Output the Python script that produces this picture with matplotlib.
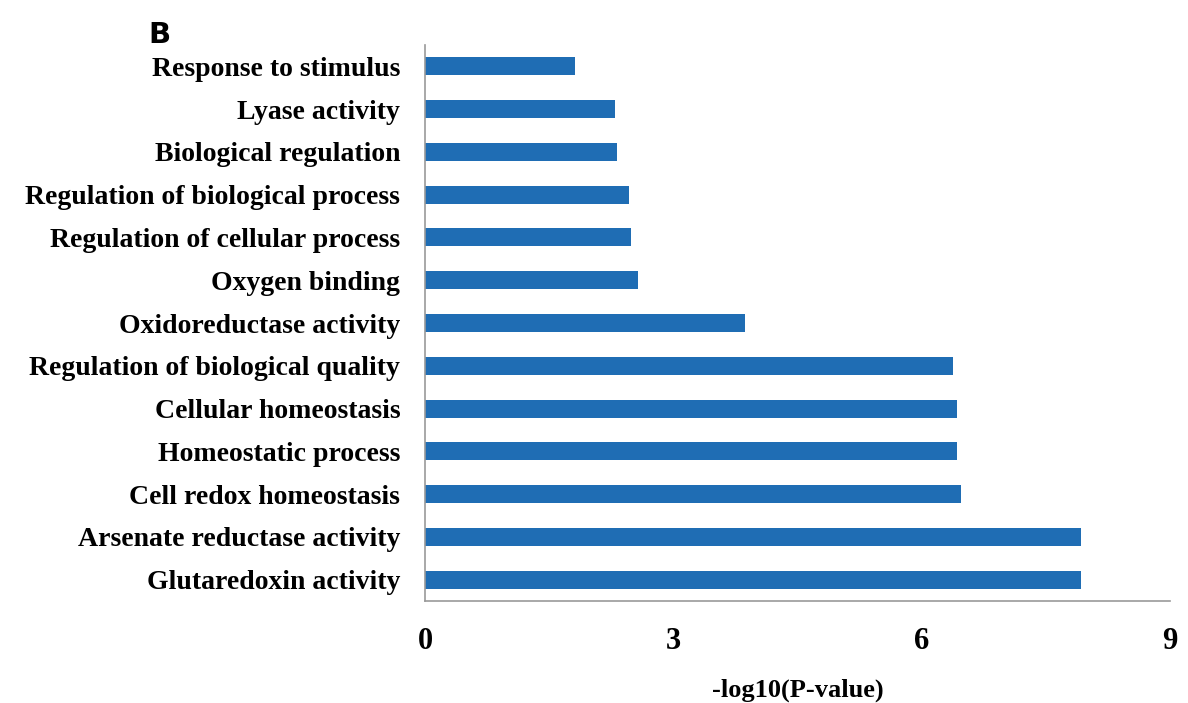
import numpy as np
import matplotlib.pyplot as plt

# GO terms, top to bottom as shown
terms = ['Response to stimulus', 'Lyase activity', 'Biological regulation',
         'Regulation of biological process', 'Regulation of cellular process',
         'Oxygen binding', 'Oxidoreductase activity',
         'Regulation of biological quality', 'Cellular homeostasis',
         'Homeostatic process', 'Cell redox homeostasis',
         'Arsenate reductase activity', 'Glutaredoxin activity']
neg_log_p = [1.81, 2.29, 2.32, 2.46, 2.49, 2.57, 3.86,
             6.38, 6.42, 6.42, 6.47, 7.92, 7.92]
xticks = [0, 3, 6, 9]

fig = plt.figure(figsize=(11.88, 7.03), dpi=100)
ax = fig.add_axes([0.358, 0.145, 0.627, 0.791])

y = np.arange(len(terms))
ax.barh(y, neg_log_p, height=0.42, color='#1f6db4')
ax.set_ylim(len(terms) - 0.5, -0.5)
ax.set_xlim(0, 9)

ax.set_yticks(y)
ax.set_yticklabels(terms, family='Liberation Serif', fontweight='bold', fontsize=20)
ax.set_xticks(xticks)
ax.set_xticklabels([str(v) for v in xticks], family='Liberation Serif',
                   fontweight='bold', fontsize=22)
ax.tick_params(length=0)
ax.tick_params(axis='x', pad=19)
ax.tick_params(axis='y', pad=18)

for s in ['top', 'right']:
    ax.spines[s].set_visible(False)
for s in ['left', 'bottom']:
    ax.spines[s].set_color('#999999')
    ax.spines[s].set_linewidth(1.2)

ax.set_xlabel('-log10(P-value)', family='Liberation Serif', fontweight='bold',
              fontsize=19, labelpad=16)
fig.text(0.125, 0.950, 'B', family='DejaVu Sans', fontweight='bold', fontsize=21,
         va='center')

fig.savefig('out.png', dpi=100)
